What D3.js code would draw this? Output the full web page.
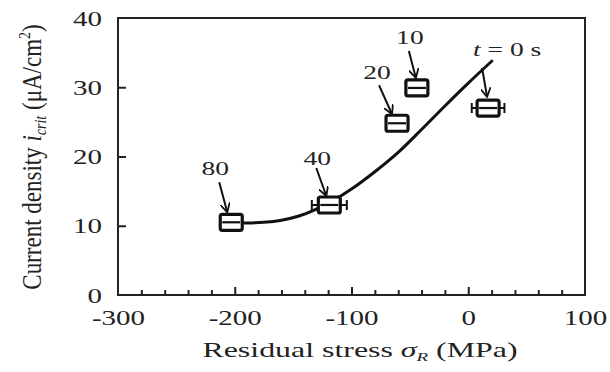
<!DOCTYPE html>
<html>
<head>
<meta charset="utf-8">
<script src="https://cdn.jsdelivr.net/npm/d3@7"></script>
<style>
  body { margin: 0; background: #fff; }
  text { font-family: "Liberation Serif", "DejaVu Serif", serif; fill: #222; }
</style>
</head>
<body>
<svg id="chart" width="610" height="372"></svg>
<script>
// data
var stress = [-203, -119, -61, -44, 17];
var density = [10.5, 13.0, 24.8, 29.9, 27.0];
var stressErr = [0, 15, 0, 0, 14];
var pointLabels = ["80", "40", "20", "10", "t = 0 s"];

// fitted curve
var curveStress = [-203, -190, -175, -160, -145, -130, -115, -100, -80, -60, -40, -20, 0, 21];
var curveDensity = [10.4, 10.4, 10.5, 10.8, 11.4, 12.4, 13.7, 15.3, 17.8, 20.6, 23.9, 27.3, 30.6, 33.9];

var xTicks = [-300, -200, -100, 0, 100];
var yTicks = [0, 10, 20, 30, 40];

var stretch = 1.45; // the picture is squashed horizontally, text looks wide

var svg = d3.select("#chart"),
    plotLeft = 118, plotRight = 585, plotTop = 18, plotBottom = 295;

var x = d3.scaleLinear().domain([-300, 100]).range([plotLeft, plotRight]);
var y = d3.scaleLinear().domain([0, 40]).range([plotBottom, plotTop]);

// frame
svg.append("rect")
    .attr("x", plotLeft).attr("y", plotTop)
    .attr("width", plotRight - plotLeft).attr("height", plotBottom - plotTop)
    .attr("fill", "none").attr("stroke", "#222").attr("stroke-width", 2);

// x axis, inward ticks every 20
var gx = svg.append("g")
    .attr("transform", "translate(0," + plotBottom + ")")
    .call(d3.axisBottom(x)
        .tickValues(d3.range(-300, 101, 20))
        .tickSize(-5)
        .tickFormat(function(d) { return xTicks.indexOf(d) >= 0 ? d : ""; }));
gx.select(".domain").remove();
gx.selectAll(".tick line")
    .attr("stroke", "#222").attr("stroke-width", 2)
    .attr("y2", function(d) { return xTicks.indexOf(d) >= 0 ? -8 : -5; })
    .attr("display", function(d) { return (d == -300 || d == 100) ? "none" : null; });
gx.selectAll(".tick text")
    .attr("y", 30).attr("dy", 0)
    .attr("font-size", 20).attr("font-family", "Liberation Serif").attr("fill", "#222")
    .attr("transform", "scale(" + stretch + ",1)");

// y axis
var gy = svg.append("g")
    .attr("transform", "translate(" + plotLeft + ",0)")
    .call(d3.axisLeft(y).tickValues(yTicks).tickSize(-8));
gy.select(".domain").remove();
gy.selectAll(".tick line")
    .attr("stroke", "#222").attr("stroke-width", 2)
    .attr("display", function(d) { return (d == 0 || d == 40) ? "none" : null; });
gy.selectAll(".tick text")
    .attr("x", -16 / stretch).attr("dy", "0.35em")
    .attr("font-size", 20).attr("font-family", "Liberation Serif").attr("fill", "#222")
    .attr("transform", "scale(" + stretch + ",1)");

// axis titles
var xt = svg.append("text")
    .attr("transform", "translate(360,357) scale(" + stretch + ",1)")
    .attr("text-anchor", "middle").attr("font-size", 22);
xt.append("tspan").text("Residual stress ");
xt.append("tspan").attr("font-style", "italic").text("σ");
xt.append("tspan").attr("font-style", "italic").attr("font-size", 13).attr("dy", 4).text("R");
xt.append("tspan").attr("dy", -4).text(" (MPa)");

var yt = svg.append("text")
    .attr("transform", "translate(41,157) rotate(-90) scale(1," + 1.2 + ")")
    .attr("text-anchor", "middle").attr("font-size", 23);
yt.append("tspan").text("Current density ");
yt.append("tspan").attr("font-style", "italic").text("i");
yt.append("tspan").attr("font-style", "italic").attr("font-size", 14).attr("dy", 4).text("crit");
yt.append("tspan").attr("dy", -4).text(" (μA/cm");
yt.append("tspan").attr("font-size", 14).attr("dy", -9).text("2");
yt.append("tspan").attr("dy", 9).text(")");

// curve
var line = d3.line()
    .x(function(d, i) { return x(curveStress[i]); })
    .y(function(d) { return y(d); })
    .curve(d3.curveMonotoneX);
svg.append("path")
    .datum(curveDensity)
    .attr("d", line)
    .attr("fill", "none").attr("stroke", "#111").attr("stroke-width", 3);

// markers with error bars
var pts = stress.map(function(s, i) { return {s: s, v: density[i], e: stressErr[i], label: pointLabels[i]}; });
var mk = svg.selectAll(".pt").data(pts).enter().append("g")
    .attr("class", "pt")
    .attr("transform", function(d) { return "translate(" + x(d.s) + "," + y(d.v) + ")"; });
mk.filter(function(d) { return d.e > 0; }).each(function(d) {
    var g = d3.select(this), w = x(d.s + d.e) - x(d.s);
    g.append("line").attr("x1", -w).attr("x2", w).attr("y1", 0).attr("y2", 0)
        .attr("stroke", "#111").attr("stroke-width", 2);
    g.append("line").attr("x1", -w).attr("x2", -w).attr("y1", -5).attr("y2", 5)
        .attr("stroke", "#111").attr("stroke-width", 2);
    g.append("line").attr("x1", w).attr("x2", w).attr("y1", -5).attr("y2", 5)
        .attr("stroke", "#111").attr("stroke-width", 2);
});
mk.append("rect")
    .attr("x", -11).attr("y", -8).attr("width", 22).attr("height", 16).attr("rx", 2)
    .attr("fill", "#fff").attr("stroke", "#111").attr("stroke-width", 3.2);
mk.append("line").attr("x1", -9).attr("x2", 9).attr("y1", 0).attr("y2", 0)
    .attr("stroke", "#111").attr("stroke-width", 2.2);

// annotation offsets (pixels from marker): label centre, arrow start, arrow tip
var labelOff = [[-16, -54], [-12, -47], [-20, -51], [-7, -51], [19, -59]];
var arrowFrom = [[-12, -40], [-13, -37], [-18, -38], [-8, -37], [-6, -40]];
var arrowTo = [[-4, -10], [-3, -9], [-5, -9], [-1, -10], [-1, -11]];

svg.append("defs").append("marker")
    .attr("id", "vhead").attr("viewBox", "0 0 10 10")
    .attr("refX", 9).attr("refY", 5)
    .attr("markerWidth", 10).attr("markerHeight", 10)
    .attr("markerUnits", "userSpaceOnUse")
    .attr("orient", "auto")
  .append("path").attr("d", "M0,0 L9,5 L0,10")
    .attr("fill", "none").attr("stroke", "#111").attr("stroke-width", 1.8);

mk.each(function(d, i) {
    var g = d3.select(this);
    g.append("line")
        .attr("x1", arrowFrom[i][0]).attr("y1", arrowFrom[i][1])
        .attr("x2", arrowTo[i][0]).attr("y2", arrowTo[i][1])
        .attr("stroke", "#111").attr("stroke-width", 2)
        .attr("marker-end", "url(#vhead)");
    var t = g.append("text")
        .attr("transform", "translate(" + labelOff[i][0] + "," + (labelOff[i][1] + 7) + ") scale(" + stretch + ",1)")
        .attr("text-anchor", "middle").attr("font-size", 19);
    if (d.label.charAt(0) == "t") {
        t.append("tspan").attr("font-style", "italic").text("t");
        t.append("tspan").text(" = 0 s");
    } else {
        t.text(d.label);
    }
});
</script>
</body>
</html>
